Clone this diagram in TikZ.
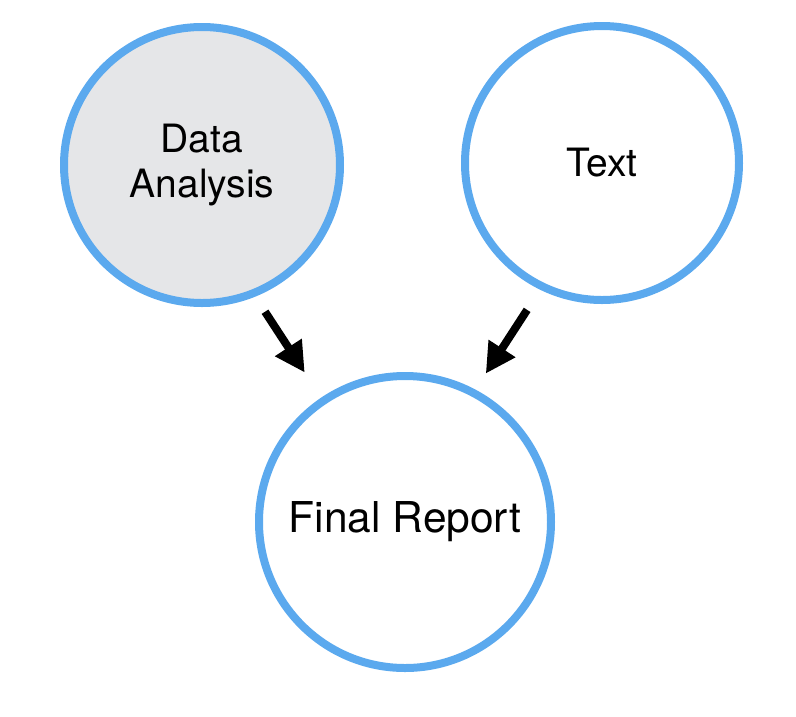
\documentclass[tikz,border=0pt]{standalone}
\usepackage{fontspec}
\setmainfont{TeX Gyre Heros}
\usetikzlibrary{arrows.meta}
\usetikzlibrary{positioning}
\definecolor{ringblue}{RGB}{91,169,238}
\definecolor{discgray}{RGB}{229,230,232}

\begin{document}
\begin{tikzpicture}[x=1pt,y=-1pt]
	\useasboundingbox (0,0) rectangle (796,716);
	\begin{scope}[every node/.style={circle, draw=ringblue, line width=8pt, inner sep=0pt, align=center}]
		\node[fill=discgray, minimum size=276pt, font=\fontsize{39}{45}\selectfont] (1) at (202,165) {Data\\Analysis};
		\node[fill=white, minimum size=274pt, font=\fontsize{39}{45}\selectfont] (2) at (602,163) {Text};
		\node[fill=white, minimum size=292pt, font=\fontsize{42.5}{48}\selectfont] (3) at (405,522) {Final Report};
	\end{scope}

	\begin{scope}[>={Triangle[length=30pt,width=30pt]},
	              every edge/.style={draw=black, line width=8pt}]
		\path (1.-68) edge[->, shorten <=18pt, shorten >=30pt] (3.124);
		\path (2.-116) edge[->, shorten <=24pt, shorten >=19pt] (3.62);
	\end{scope}
\end{tikzpicture}
\end{document}
